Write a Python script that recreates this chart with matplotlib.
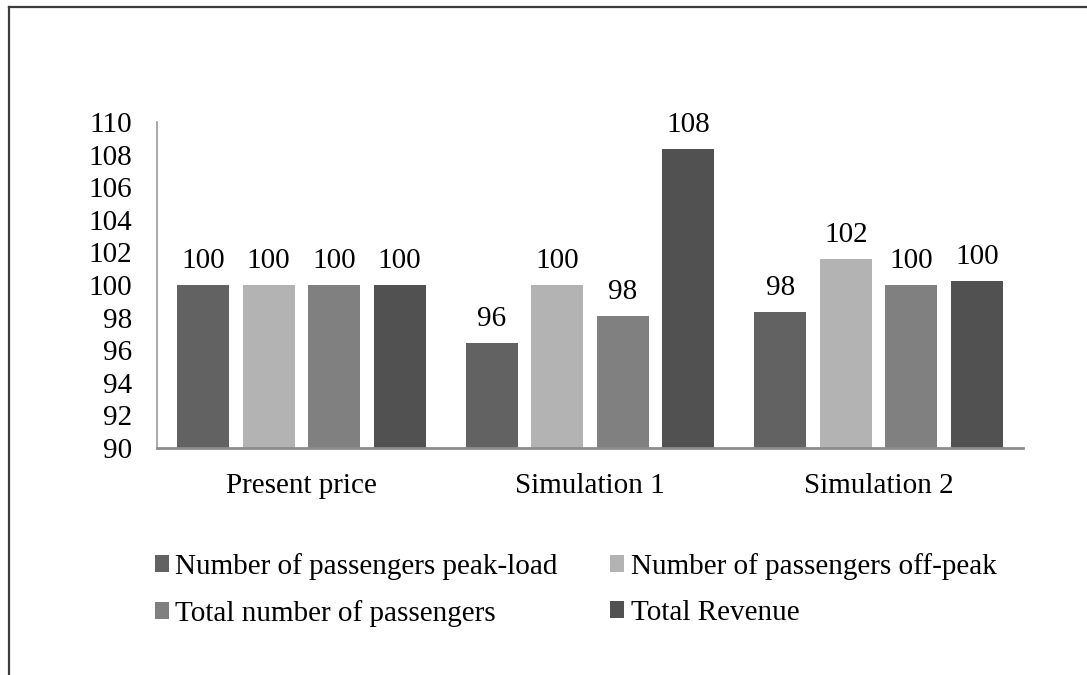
import numpy as np
import matplotlib.pyplot as plt
from matplotlib.lines import Line2D

plt.rcParams['font.family'] = ['Liberation Serif', 'DejaVu Serif']

categories = ["Present price", "Simulation 1", "Simulation 2"]
series_names = ["Number of passengers peak-load", "Number of passengers off-peak",
                "Total number of passengers", "Total Revenue"]
peak_load = [100, 96.44, 98.36]
off_peak = [100, 100.0, 101.6]
total_passengers = [100, 98.1, 99.98]
total_revenue = [100, 108.34, 100.24]
colors = ["#626262", "#b3b3b3", "#808080", "#515151"]

fs = 21
fig = plt.figure(figsize=(10.87, 6.75), dpi=100)
ax = fig.add_axes([0.1444, 0.3363, 0.7967, 0.4830])

x = np.arange(len(categories))
width = 0.18
step = 0.227
all_series = [peak_load, off_peak, total_passengers, total_revenue]
handles = []
for i, (vals, name, col) in enumerate(zip(all_series, series_names, colors)):
    offs = (i - 1.5) * step
    bars = ax.bar(x + offs, np.array(vals) - 90, width, bottom=90, color=col, label=name)
    ax.bar_label(bars, labels=[f"{v:.0f}" for v in vals], padding=8, fontsize=fs)
    handles.append(bars)

ax.set_xlim(-0.5, 2.5)
ax.set_ylim(90, 110)
ax.set_yticks(np.arange(90, 111, 2))
ax.set_xticks(x)
ax.set_xticklabels(categories)
ax.tick_params(axis='both', length=0, labelsize=fs)
ax.tick_params(axis='x', pad=18)
ax.tick_params(axis='y', pad=18)
for s in ['top', 'right']:
    ax.spines[s].set_visible(False)
ax.spines['left'].set_color('#9a9a9a')
ax.spines['left'].set_linewidth(1.2)
ax.spines['bottom'].set_color('#8c8c8c')
ax.spines['bottom'].set_linewidth(2)

# row order: peak-load, off-peak / total, revenue
order = [0, 2, 1, 3]
ax.legend([handles[k] for k in order], [series_names[k] for k in order],
          loc='upper left', bbox_to_anchor=(155 / 1087, 1 - 553 / 675), bbox_transform=fig.transFigure,
          ncol=2, frameon=False, fontsize=fs, handlelength=0.48, handleheight=0.48,
          handletextpad=0.22, columnspacing=1.8, labelspacing=0.68, borderpad=0, borderaxespad=0)

# outer frame (top and left edges of the cropped chart border)
fig.add_artist(Line2D([9 / 1087, 1], [1 - 7 / 675, 1 - 7 / 675], transform=fig.transFigure,
                      color='#3c3c3c', linewidth=1.6))
fig.add_artist(Line2D([9 / 1087, 9 / 1087], [0, 1 - 7 / 675], transform=fig.transFigure,
                      color='#3c3c3c', linewidth=1.6))

fig.savefig("out.png", dpi=100)
